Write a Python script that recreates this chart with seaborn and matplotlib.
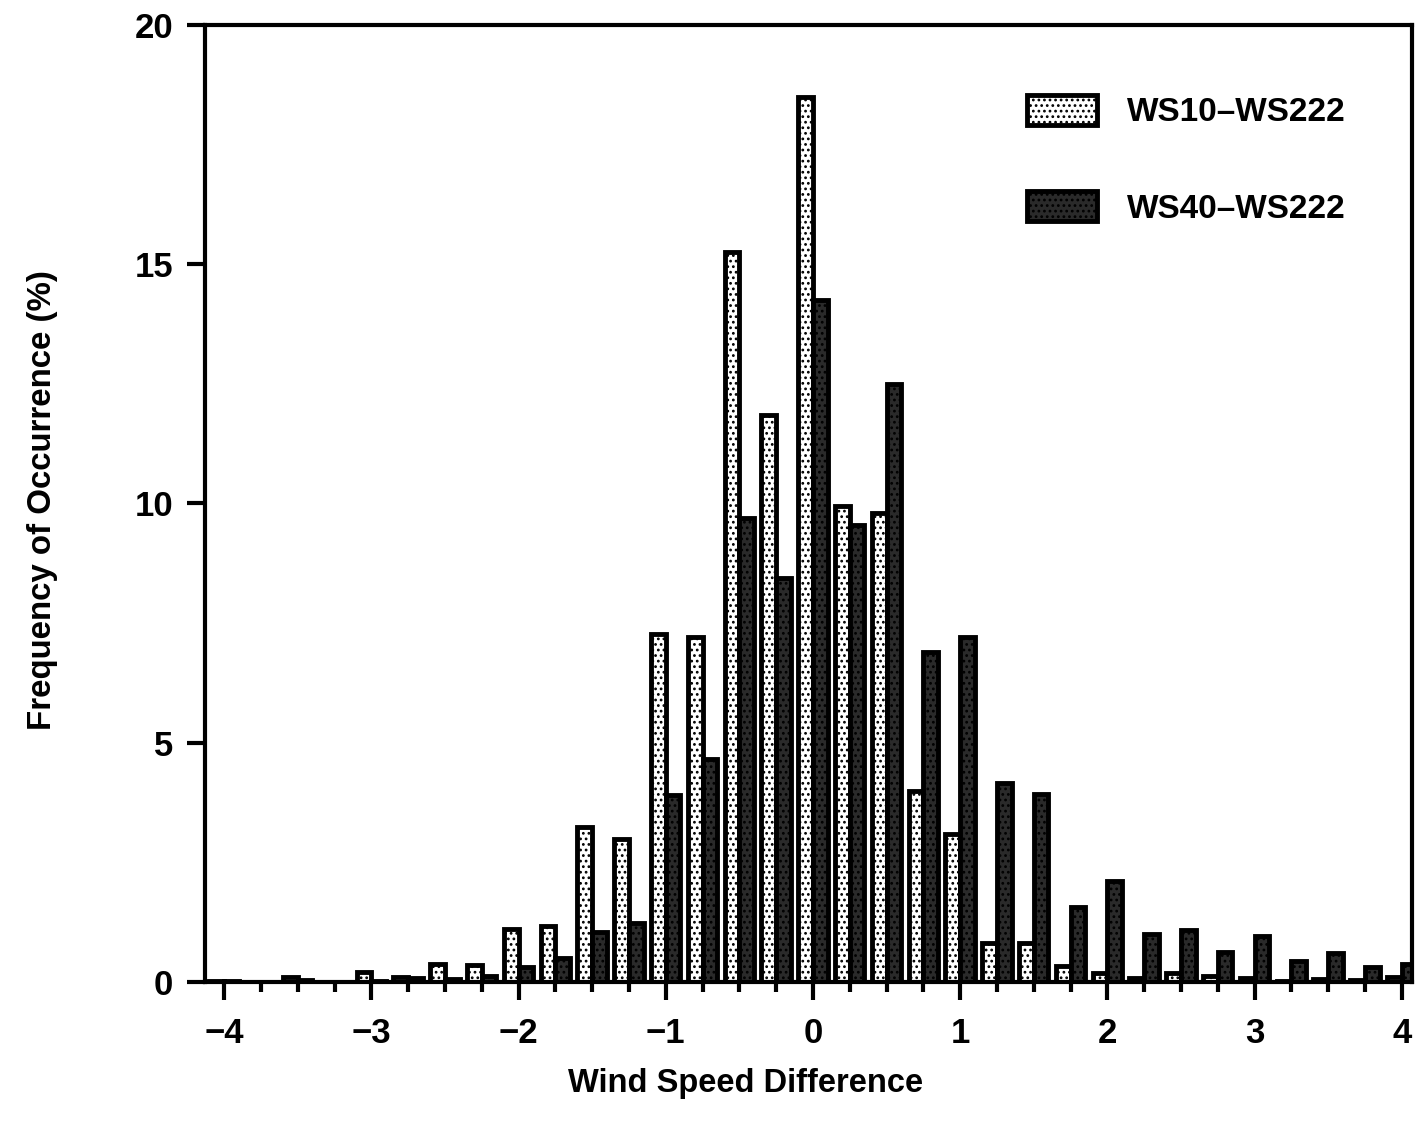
import numpy as np
import pandas as pd
import seaborn as sns
import matplotlib.pyplot as plt
import matplotlib.patches as mpatches
from matplotlib.ticker import MultipleLocator

# wind speed difference bins
bins = [-4.00, -3.75, -3.50, -3.25, -3.00, -2.75, -2.50, -2.25,
        -2.00, -1.75, -1.50, -1.25, -1.00, -0.75, -0.50, -0.25,
        0.00, 0.25, 0.50, 0.75, 1.00, 1.25, 1.50, 1.75,
        2.00, 2.25, 2.50, 2.75, 3.00, 3.25, 3.50, 3.75, 4.00]

# frequency of occurrence (%)
ws10 = [0.03, 0.0, 0.10, 0.0, 0.20, 0.10, 0.37, 0.35,
        1.10, 1.18, 3.24, 2.98, 7.27, 7.20, 15.25, 11.85,
        18.50, 9.95, 9.80, 4.00, 3.10, 0.82, 0.81, 0.33,
        0.19, 0.08, 0.18, 0.13, 0.08, 0.03, 0.06, 0.04, 0.10]
ws40 = [0.02, 0.0, 0.05, 0.0, 0.03, 0.08, 0.07, 0.12,
        0.31, 0.50, 1.04, 1.23, 3.90, 4.66, 9.70, 8.44,
        14.25, 9.55, 12.50, 6.90, 7.21, 4.16, 3.93, 1.57,
        2.11, 1.01, 1.09, 0.63, 0.96, 0.44, 0.60, 0.31, 0.37]

series = ['WS10\u2013WS222', 'WS40\u2013WS222']

df = pd.DataFrame({
    'diff': bins + bins,
    'freq': ws10 + ws40,
    'series': [series[0]] * len(bins) + [series[1]] * len(bins),
})

sns.set_theme(style='ticks')
plt.rcParams['font.family'] = ['Liberation Sans', 'DejaVu Sans']
plt.rcParams['font.weight'] = 'bold'
plt.rcParams['text.color'] = 'black'
plt.rcParams['axes.labelcolor'] = 'black'
plt.rcParams['xtick.color'] = 'black'
plt.rcParams['ytick.color'] = 'black'
plt.rcParams['hatch.linewidth'] = 1.2

fig, ax = plt.subplots(figsize=(14.18, 11.21), dpi=100)
fig.subplots_adjust(left=0.1446, right=0.9958, bottom=0.124, top=0.9777)

sns.barplot(data=df, x='diff', y='freq', hue='series', native_scale=True,
            dodge=True, width=0.8, errorbar=None, legend=False, ax=ax)

# light dotted bars / dark textured bars
styles = [dict(facecolor='white', hatch='...'),
          dict(facecolor='#2a2a2a', hatch='...')]
for cont, st in zip(ax.containers, styles):
    for bar in cont:
        bar.set_facecolor(st['facecolor'])
        bar.set_hatch(st['hatch'])
        bar.set_edgecolor('black')
        bar.set_linewidth(3.5)

ax.set_xlim(-4.13, 4.07)
ax.set_ylim(0, 20)
ax.xaxis.set_major_locator(MultipleLocator(1))
ax.xaxis.set_minor_locator(MultipleLocator(0.25))
ax.yaxis.set_major_locator(MultipleLocator(5))
ax.tick_params(axis='both', which='major', direction='out', length=13,
               width=3, labelsize=25, color='black', labelcolor='black')
ax.tick_params(axis='x', which='major', pad=12)
ax.tick_params(axis='y', which='major', pad=10)
ax.tick_params(axis='x', which='minor', direction='out', length=7, width=3)
ax.tick_params(axis='y', which='minor', left=False)
for sp in ax.spines.values():
    sp.set_linewidth(3)
    sp.set_color('black')

ax.set_xlabel('Wind Speed Difference', fontsize=23.5, fontweight='bold')
ax.xaxis.set_label_coords(0.448, -0.09)
ax.set_ylabel('Frequency of Occurrence (%)', fontsize=23.8, fontweight='bold')
ax.yaxis.set_label_coords(-0.122, 0.504)

handles = [mpatches.Patch(facecolor=st['facecolor'], hatch=st['hatch'],
                          edgecolor='black', linewidth=3.5) for st in styles]
ax.legend(handles=handles, labels=series, loc='upper left',
          bbox_to_anchor=(0.7243, 0.9155), bbox_transform=fig.transFigure,
          frameon=False, fontsize=24, handlelength=2.1, handleheight=1.0,
          handletextpad=0.9, labelspacing=1.9, borderpad=0, borderaxespad=0)

fig.savefig('out.png', dpi=100)
